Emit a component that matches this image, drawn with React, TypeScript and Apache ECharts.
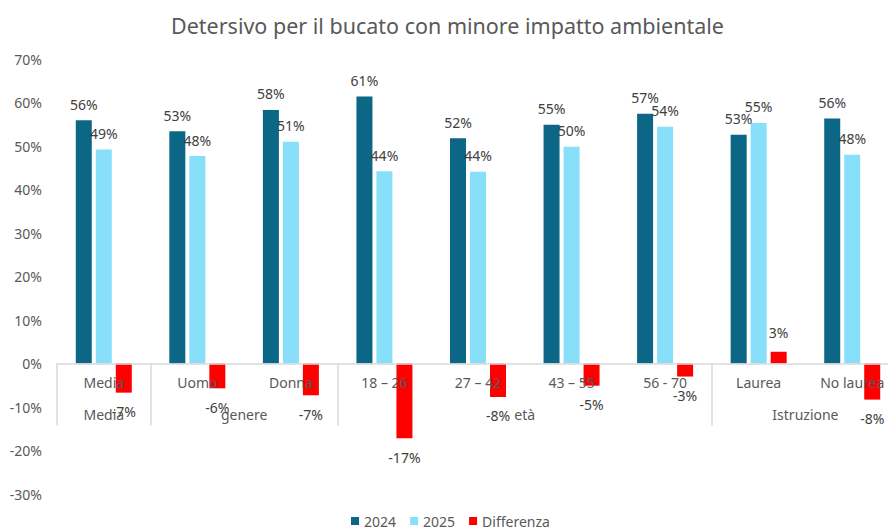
import React, { useEffect, useRef } from "react";
import * as echarts from "echarts";

const title = "Detersivo per il bucato con minore impatto ambientale";
const categories = ["Media", "Uomo", "Donna", "18 – 26", "27 – 42", "43 – 55", "56 - 70", "Laurea", "No laurea"];
const groupLabels = ["Media", "genere", "età", "Istruzione"];
const groupSpans = [1, 2, 4, 2];
const seriesNames = ["2024", "2025", "Differenza"];
const values2024 = [55.9, 53.4, 58.3, 61.4, 51.8, 54.9, 57.4, 52.6, 56.3];
const values2025 = [49.2, 47.7, 51.0, 44.2, 44.1, 49.8, 54.4, 55.3, 48.0];
const valuesDiff = [-6.7, -5.7, -7.3, -17.2, -7.7, -5.1, -3.0, 2.7, -8.3];
const yMin = -30;
const yMax = 70;
const yStep = 10;

const FONT = "'Noto Sans', sans-serif";
const TEXT = "#595959";
const LABEL = "#404040";
const COLORS = ["#0C6686", "#88DFF9", "#FF0000"];

export default function App() {
  const ref = useRef<HTMLDivElement>(null);
  useEffect(() => {
    if (!ref.current) return;
    const chart = echarts.init(ref.current, null, { renderer: "svg" });

    const boundaries: number[] = [0];
    const centers: number[] = [];
    let acc = 0;
    groupSpans.forEach((s) => {
      centers.push(acc + s / 2);
      acc += s;
      boundaries.push(acc);
    });

    const top = 59;
    const bottom = 36;
    const plotH = 530 - top - bottom;
    const zeroOffset = -(plotH * (0 - yMin)) / (yMax - yMin);

    const pct = (p: any) => `${Math.round(p.value)}%`;
    const labelStyle = { color: LABEL, fontSize: 14, fontFamily: FONT, formatter: pct };

    chart.setOption({
      animation: false,
      textStyle: { fontFamily: FONT },
      title: {
        text: title,
        left: 166,
        top: 9,
        textStyle: { fontFamily: FONT, fontSize: 21.5, fontWeight: "normal", color: TEXT },
      },
      legend: {
        data: seriesNames,
        top: 514,
        left: 351,
        padding: 0,
        itemWidth: 8,
        itemHeight: 8,
        itemGap: 14,
        icon: "rect",
        textStyle: { color: TEXT, fontSize: 14, fontFamily: FONT },
      },
      grid: { left: 57, right: -11, top, bottom, containLabel: false, outerBoundsMode: "none" },
      xAxis: [
        {
          type: "category",
          data: categories,
          position: "bottom",
          offset: zeroOffset,
          z: 5,
          axisLine: { show: true, onZero: false, lineStyle: { color: "#D9D9D9", width: 1.5 } },
          axisTick: { show: false },
          axisLabel: { interval: 0, margin: 12, color: TEXT, fontSize: 14, fontFamily: FONT },
          splitLine: { show: false },
        },
        {
          type: "value",
          min: 0,
          max: categories.length,
          position: "bottom",
          offset: zeroOffset,
          z: 5,
          axisLine: { show: false, onZero: false },
          splitLine: { show: false },
          axisTick: {
            show: true,
            customValues: boundaries,
            length: 62,
            lineStyle: { color: "#D9D9D9", width: 1.5 },
          },
          axisLabel: {
            customValues: centers,
            margin: 44,
            color: TEXT,
            fontSize: 14,
            fontFamily: FONT,
            formatter: (v: number) => {
              const i = centers.indexOf(v);
              return i >= 0 ? groupLabels[i] : "";
            },
          },
        },
      ],
      yAxis: {
        type: "value",
        min: yMin,
        max: yMax,
        interval: yStep,
        axisLine: { show: false },
        axisTick: { show: false },
        splitLine: { show: false },
        axisLabel: { formatter: (v: number) => `${v}%`, color: TEXT, fontSize: 14, fontFamily: FONT, margin: 15 },
      },
      series: [
        {
          name: seriesNames[0],
          type: "bar",
          data: values2024,
          barWidth: 16,
          barGap: "25%",
          itemStyle: { color: COLORS[0] },
          label: { show: true, position: "top", distance: 9, ...labelStyle },
        },
        {
          name: seriesNames[1],
          type: "bar",
          data: values2025,
          barWidth: 16,
          barGap: "25%",
          itemStyle: { color: COLORS[1] },
          label: { show: true, position: "top", distance: 9, ...labelStyle },
        },
        {
          name: seriesNames[2],
          type: "bar",
          data: valuesDiff,
          barWidth: 16,
          barGap: "25%",
          itemStyle: { color: COLORS[2] },
          label: { show: true, position: "outside", distance: 12, ...labelStyle },
        },
      ],
    });
    return () => chart.dispose();
  }, []);
  return (
    <div
      ref={ref}
      style={{ position: "fixed", left: 0, top: 0, width: 888, height: 530, background: "#fff" }}
    />
  );
}
